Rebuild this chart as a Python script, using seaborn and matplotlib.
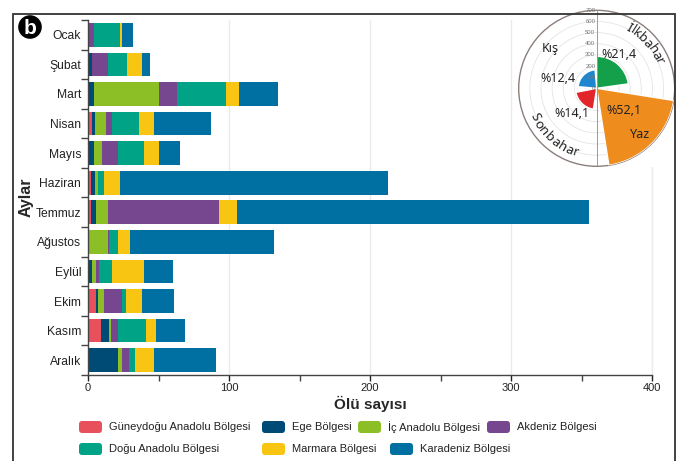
import numpy as np
import pandas as pd
import seaborn as sns
import matplotlib.pyplot as plt
from matplotlib.patches import Circle, FancyBboxPatch, Rectangle
from matplotlib.transforms import IdentityTransform, offset_copy

# monthly deaths per region (Ocak..Aralık)
aylar = ['Ocak', 'Şubat', 'Mart', 'Nisan', 'Mayıs', 'Haziran', 'Temmuz',
         'Ağustos', 'Eylül', 'Ekim', 'Kasım', 'Aralık']
bolgeler = ['Güneydoğu Anadolu Bölgesi', 'Ege Bölgesi', 'İç Anadolu Bölgesi',
            'Akdeniz Bölgesi', 'Doğu Anadolu Bölgesi', 'Marmara Bölgesi',
            'Karadeniz Bölgesi']
guneydogu = [1, 0, 0, 3, 0, 2, 2, 1, 1, 6, 9, 0]
ege = [0, 3, 4, 2, 4, 3, 4, 0, 2, 1, 6, 21]
ic_anadolu = [0, 0, 46, 8, 6, 2, 8, 13, 3, 4, 1, 3]
akdeniz = [3, 11, 13, 4, 11, 0, 79, 1, 2, 13, 5, 5]
dogu = [19, 14, 35, 19, 19, 4, 0, 6, 9, 3, 20, 4]
marmara = [1, 10, 9, 11, 10, 12, 13, 9, 23, 11, 7, 14]
karadeniz = [8, 6, 28, 40, 15, 190, 249, 102, 20, 23, 21, 44]

# seasons for the rose inset
mevsimler = ['İlkbahar', 'Yaz', 'Sonbahar', 'Kış']
mevsim_aylari = [['Mart', 'Nisan', 'Mayıs'], ['Haziran', 'Temmuz', 'Ağustos'],
                 ['Eylül', 'Ekim', 'Kasım'], ['Aralık', 'Ocak', 'Şubat']]

renkler = ['#E8505B', '#004B76', '#8CBF26', '#76468F', '#00A386', '#F8C512', '#0070A2']
mevsim_renk = ['#14A04A', '#EF8C1E', '#E2242B', '#1C86CE']
# wedge spans in degrees (start, end) - layout only
mevsim_aci = [(8, 90), (-81, -9), (191, 261), (95, 175)]

W, H = 681, 461
sns.set_style('white')
plt.rcParams['font.family'] = ['Liberation Sans', 'DejaVu Sans']

df = pd.DataFrame({'Ay': aylar})
for name, vals in zip(bolgeler, [guneydogu, ege, ic_anadolu, akdeniz, dogu, marmara, karadeniz]):
    df[name] = vals
cum = df[bolgeler].cumsum(axis=1)
cum['Ay'] = aylar

fig = plt.figure(figsize=(W / 100, H / 100), dpi=100)
ax = fig.add_axes([88 / W, 1 - 375 / H, 564 / W, 355 / H])

# stacked bars: draw cumulative totals from the last layer back
for name, col in reversed(list(zip(bolgeler, renkler))):
    sns.barplot(data=cum, x=name, y='Ay', orient='h', color=col, saturation=1,
                width=0.8, linewidth=0, ax=ax)

ax.set_xlim(0, 400)
ax.set_ylim(11.5, -0.5)
ax.set_xticks([0, 100, 200, 300, 400])
ax.set_xticks([50, 150, 250, 350], minor=True)
ax.set_yticks(np.arange(-0.5, 12, 1), minor=True)
ax.tick_params(axis='y', which='major', length=0, pad=5, labelsize=8.7, colors='#222')
ax.tick_params(axis='y', which='minor', length=5, width=1, color='#444', direction='out', left=True)
ax.tick_params(axis='x', which='both', length=4, width=1, color='#444', direction='out', bottom=True)
ax.tick_params(axis='x', which='major', labelsize=8, pad=2, colors='#222')
ax.xaxis.grid(True, color='#ebebeb', lw=1)
ax.axvline(400, color='#ebebeb', lw=1, zorder=0, clip_on=False)
ax.set_axisbelow(True)
for s in ['top', 'right']:
    ax.spines[s].set_visible(False)
for s in ['left', 'bottom']:
    ax.spines[s].set_color('#444')
    ax.spines[s].set_linewidth(1)
ax.set_xlabel('Ölü sayısı', fontsize=11, fontweight='bold')
ax.set_ylabel('Aylar', fontsize=11.5, fontweight='bold')
ax.xaxis.set_label_coords(0.5, -0.058)
ax.yaxis.set_label_coords(-0.096, 0.5)

# legend (flow layout as in the original)
leg_pos = [(79, 427), (262, 427), (358, 427), (487, 427), (79, 449), (262, 449), (390, 449)]
for name, col, (px, py) in zip(bolgeler, renkler, leg_pos):
    fig.add_artist(FancyBboxPatch((px, H - py - 6), 23, 12, boxstyle='round,pad=0,rounding_size=3',
                                  transform=IdentityTransform(), facecolor=col, edgecolor='none'))
    fig.text((px + 30) / W, 1 - py / H, name, fontsize=8, va='center', ha='left', color='#222')

# badge
fig.add_artist(Circle((30, H - 27), 12.5, transform=IdentityTransform(), facecolor='black', zorder=5))
fig.text(30 / W, 1 - 28 / H, 'b', color='white', fontsize=15, fontweight='bold',
         ha='center', va='center', zorder=6)

# rose inset
fig.add_artist(Rectangle((517, H - 167), 160, 170, transform=IdentityTransform(),
                         facecolor='white', edgecolor='none', zorder=1))
cx, cy, R = 596.7, 88.3, 78
pax = fig.add_axes([(cx - R) / W, 1 - (cy + R) / H, 2 * R / W, 2 * R / H], projection='polar')
pax.set_zorder(2)
toplam = df.set_index('Ay')[bolgeler].sum(axis=1)
mevsim_top = [toplam[m].sum() for m in mevsim_aylari]
genel = sum(mevsim_top)
for val, col, (a0, a1) in zip(mevsim_top, mevsim_renk, mevsim_aci):
    pax.bar(np.deg2rad((a0 + a1) / 2), val, width=np.deg2rad(a1 - a0), color=col, zorder=3)
pax.set_ylim(0, 700)
pax.set_yticks(range(100, 700, 100))
pax.set_yticklabels([])
pax.set_xticks([])
pax.yaxis.grid(True, color='#e4e4e4', lw=0.6)
pax.spines['polar'].set_color('#8a7f7a')
pax.spines['polar'].set_linewidth(1)
pax.plot([np.pi / 2, np.pi / 2], [0, 700], color='#9a9a9a', lw=0.7, zorder=4)
pax.plot([-np.pi / 2, -np.pi / 2], [0, 700], color='#9a9a9a', lw=0.7, zorder=4)
lab_tr = offset_copy(pax.transData, fig=fig, x=-1, y=0, units='points')
for r in range(0, 701, 100):
    pax.text(np.pi / 2, r, str(r), transform=lab_tr, fontsize=4.3, color='#777',
             ha='right', va='center', zorder=5)

pfont = ['Noto Sans', 'DejaVu Sans']
yuzde = ['%' + f'{v / genel * 100:.1f}'.replace('.', ',') for v in mevsim_top]
yuzde_pos = [(56.6, 368), (-39.4, 320), (225, 318), (166, 355)]
for txt, (a, r) in zip(yuzde, yuzde_pos):
    pax.text(np.deg2rad(a), r, txt, fontsize=9, family=pfont, ha='center', va='center',
             color='#222', zorder=6)
pax.text(np.deg2rad(139), 547, 'Kış', fontsize=9, family=pfont, ha='center', va='center', color='#222')
pax.text(np.deg2rad(-47), 572, 'Yaz', fontsize=9, family=pfont, ha='center', va='center', color='#222', zorder=6)

genislik = {'İ': 0.3, 'l': 0.28, 'k': 0.5, 'b': 0.58, 'a': 0.55, 'h': 0.58, 'r': 0.4,
            'S': 0.52, 'o': 0.58, 'n': 0.58}


def arc_text(text, r, t0, t1, clockwise):
    w = np.array([genislik.get(c, 0.55) for c in text])
    mids = (np.cumsum(w) - w / 2) / w.sum()
    for c, m in zip(text, mids):
        t = t0 + (t1 - t0) * m
        rot = t - 90 if clockwise else t + 90
        pax.text(np.deg2rad(t), r, c, rotation=rot, rotation_mode='anchor', fontsize=9.5,
                 family=pfont, ha='center', va='center', color='#222', zorder=6)


arc_text('İlkbahar', 612, 63, 21, True)
arc_text('Sonbahar', 612, 202, 254, False)

# outer frame
fig.add_artist(Rectangle((13, -20), 662, H - 14 + 20, transform=IdentityTransform(),
                         facecolor='none', edgecolor='#333', lw=1.3, zorder=10))

fig.savefig('out.png', dpi=100)
